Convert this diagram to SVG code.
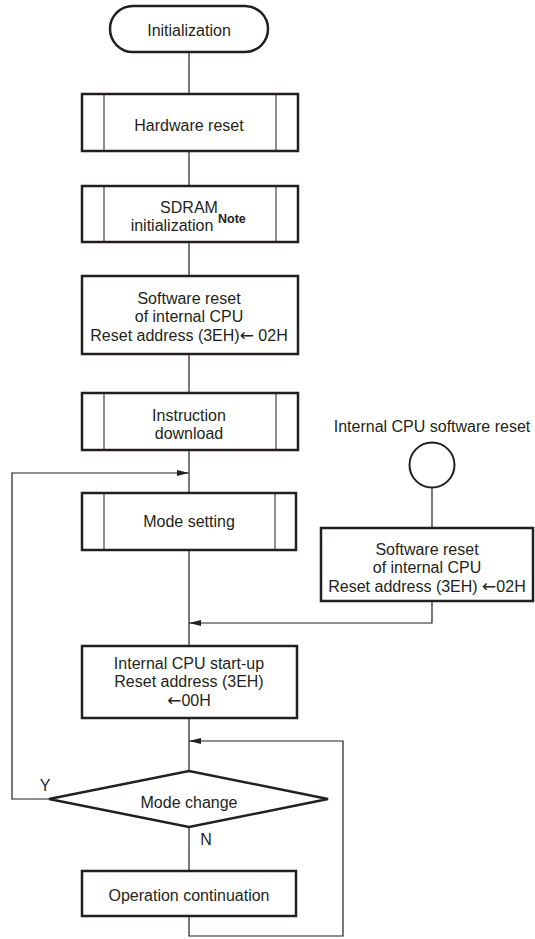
<svg xmlns="http://www.w3.org/2000/svg" width="535" height="939" viewBox="0 0 535 939">
<defs>
<style>
text{font-family:"Liberation Sans",Arial,sans-serif;font-size:16px;fill:#231f20;text-anchor:middle}
.note{font-size:12.5px;font-weight:bold;text-anchor:start}
.ar{font-family:"DejaVu Sans",sans-serif;font-size:17px}
.box{fill:#fff;stroke:#231f20;stroke-width:2.5}
.inner{stroke:#231f20;stroke-width:1;fill:none}
.conn{fill:none;stroke:#231f20;stroke-width:1.2}
</style>
<marker id="arr" markerUnits="userSpaceOnUse" markerWidth="12" markerHeight="6" refX="12" refY="3" orient="auto">
<path d="M0,0 L12,3 L0,6 Z" fill="#231f20"/>
</marker>
</defs>
<g id="connectors">
<line class="conn" x1="189" y1="52" x2="189" y2="94"/>
<line class="conn" x1="189" y1="151" x2="189" y2="186"/>
<line class="conn" x1="189" y1="242" x2="189" y2="276"/>
<line class="conn" x1="189" y1="354" x2="189" y2="393"/>
<line class="conn" x1="189" y1="450" x2="189" y2="493"/>
<line class="conn" x1="189" y1="550" x2="189" y2="646"/>
<line class="conn" x1="189" y1="718" x2="189" y2="771"/>
<line class="conn" x1="189" y1="827" x2="189" y2="871"/>
<line class="conn" x1="432" y1="487" x2="432" y2="528"/>
<path class="conn" d="M49,799 H12 V473 H189" marker-end="url(#arr)"/>
<path class="conn" d="M432,601 V623 H189" marker-end="url(#arr)"/>
<path class="conn" d="M189,916 V936 H343 V741 H189" marker-end="url(#arr)"/>
</g>
<g id="init">
<rect class="box" x="110" y="6" width="158" height="46" rx="23" ry="23"/>
<text x="189" y="35.5">Initialization</text>
</g>
<g id="hw-reset">
<rect class="box" x="82" y="94" width="216" height="57"/>
<line class="inner" x1="104" y1="94" x2="104" y2="151"/>
<line class="inner" x1="276" y1="94" x2="276" y2="151"/>
<text x="189" y="130.5">Hardware reset</text>
</g>
<g id="sdram">
<rect class="box" x="82" y="186" width="216" height="56"/>
<line class="inner" x1="104" y1="186" x2="104" y2="242"/>
<line class="inner" x1="276" y1="186" x2="276" y2="242"/>
<text x="189" y="212.5">SDRAM</text>
<text x="172" y="231">initialization</text>
<text class="note" x="218" y="222.5">Note</text>
</g>
<g id="sw-reset">
<rect class="box" x="82" y="276" width="216" height="78"/>
<text x="189" y="303.5">Software reset</text>
<text x="189" y="322">of internal CPU</text>
<text x="189" y="340.5">Reset address (3EH)<tspan class="ar">←</tspan> 02H</text>
</g>
<g id="instr">
<rect class="box" x="82" y="393" width="216" height="57"/>
<line class="inner" x1="104" y1="393" x2="104" y2="450"/>
<line class="inner" x1="276" y1="393" x2="276" y2="450"/>
<text x="189" y="420.5">Instruction</text>
<text x="189" y="439">download</text>
</g>
<g id="mode-setting">
<rect class="box" x="82" y="493" width="214" height="57"/>
<line class="inner" x1="104" y1="493" x2="104" y2="550"/>
<line class="inner" x1="275" y1="493" x2="275" y2="550"/>
<text x="189" y="526.5">Mode setting</text>
</g>
<g id="cpu-sw-reset">
<text x="432" y="431.5">Internal CPU software reset</text>
<circle cx="432" cy="465" r="22.5" fill="#fff" stroke="#231f20" stroke-width="2"/>
</g>
<g id="sw-reset-2">
<rect class="box" x="321" y="528" width="212" height="73"/>
<text x="427" y="554.5">Software reset</text>
<text x="427" y="573">of internal CPU</text>
<text x="427" y="591.5">Reset address (3EH) <tspan class="ar">←</tspan>02H</text>
</g>
<g id="startup">
<rect class="box" x="82" y="646" width="215" height="72"/>
<text x="189" y="668.5">Internal CPU start-up</text>
<text x="189" y="687">Reset address (3EH)</text>
<text x="189" y="705.5"><tspan class="ar">←</tspan>00H</text>
</g>
<g id="mode-change">
<polygon class="box" points="189,771 328,799 189,827 49,799"/>
<text x="189" y="808">Mode change</text>
<text x="45" y="790.5">Y</text>
<text x="206" y="844.5">N</text>
</g>
<g id="op-cont">
<rect class="box" x="82" y="871" width="214" height="45"/>
<text x="189" y="900.5">Operation continuation</text>
</g>
</svg>
